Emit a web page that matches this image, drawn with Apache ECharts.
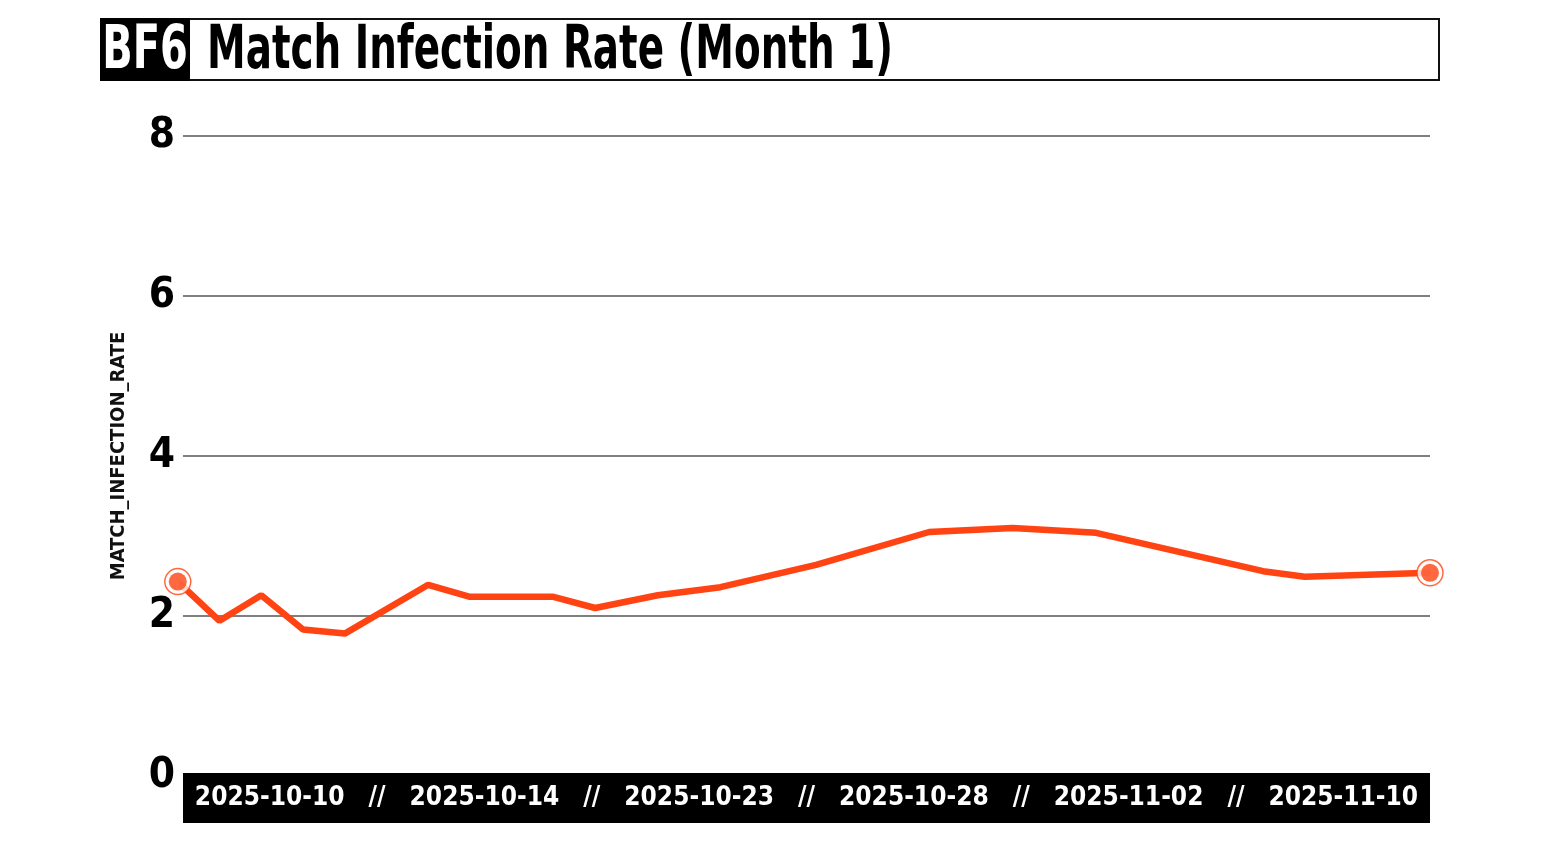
<!DOCTYPE html>
<html>
<head>
<meta charset="utf-8">
<script src="https://cdn.jsdelivr.net/npm/echarts@6/dist/echarts.min.js"></script>
<style>html,body{margin:0;padding:0;background:#fff}#c{width:1542px;height:865px}</style>
</head>
<body>
<div id="c"></div>
<script>
const dates = ['2025-10-10','2025-10-11','2025-10-12','2025-10-13','2025-10-14','2025-10-16','2025-10-17','2025-10-19','2025-10-20','2025-10-21 12:00','2025-10-23','2025-10-25 07:00','2025-10-28','2025-10-30','2025-11-01','2025-11-05','2025-11-06','2025-11-09'];
const rates = [2.43,1.94,2.26,1.83,1.78,2.39,2.24,2.24,2.10,2.26,2.36,2.64,3.05,3.10,3.04,2.56,2.49,2.54];
const bandLabels = ['2025-10-10','//','2025-10-14','//','2025-10-23','//','2025-10-28','//','2025-11-02','//','2025-11-10'];
const yTicks = [0,2,4,6,8];
const titleBadge = 'BF6';
const titleText = 'Match Infection Rate (Month 1)';
const yName = 'MATCH_INFECTION_RATE';

const FONT = '"DejaVu Sans Condensed","Liberation Sans Narrow",sans-serif';
const ORANGE = '#ff4313';
const seriesData = dates.map((d,i)=>[d, rates[i]]);
const ends = [seriesData[0], seriesData[seriesData.length-1]];
const HOUR = 3600*1000;

const chart = echarts.init(document.getElementById('c'));
chart.setOption({
  animation:false,
  backgroundColor:'#fff',
  graphic:[
    {type:'rect', shape:{x:101,y:19,width:1338,height:61}, style:{fill:'#fff',stroke:'#111',lineWidth:2}, z:1},
    {type:'rect', shape:{x:100,y:18,width:90,height:63}, style:{fill:'#000'}, z:2},
    {type:'text', x:145, y:52, scaleX:0.74, style:{text:titleBadge, fill:'#fff', font:'bold 60px '+FONT, align:'center', verticalAlign:'middle'}, z:3},
    {type:'text', x:207, y:52, scaleX:0.72, style:{text:titleText, fill:'#000', font:'bold 60px '+FONT, align:'left', verticalAlign:'middle'}, z:3},
    {type:'rect', shape:{x:183,y:773,width:1247,height:50}, style:{fill:'#000'}, z:1}
  ],
  grid:[
    {left:183, right:112, top:136, bottom:89, containLabel:false},
    {left:216, width:1181, top:770, height:10}
  ],
  xAxis:[
    {type:'time', gridIndex:0, min:v=>v.min+3*HOUR, max:v=>v.max, show:false},
    {type:'category', gridIndex:1, data:bandLabels, z:10,
     axisLine:{show:false}, axisTick:{show:false}, splitLine:{show:false},
     axisLabel:{interval:0, color:'#fff', fontFamily:FONT, fontWeight:'bold', fontSize:26, margin:5}}
  ],
  yAxis:[
    {type:'value', gridIndex:0, min:yTicks[0], max:yTicks[yTicks.length-1], interval:2,
     name:yName, nameLocation:'middle', nameGap:54, nameRotate:90,
     nameTextStyle:{fontFamily:FONT, fontWeight:'bold', fontSize:20, color:'#111'},
     axisLine:{show:false}, axisTick:{show:false},
     axisLabel:{color:'#000', fontFamily:FONT, fontWeight:'bold', fontSize:42, margin:8},
     splitLine:{lineStyle:{color:'#7f7f7f', width:2}}},
    {type:'value', gridIndex:1, show:false}
  ],
  series:[
    {type:'line', xAxisIndex:0, yAxisIndex:0, data:seriesData, showSymbol:false, clip:false,
     lineStyle:{color:ORANGE, width:6.5}, z:3},
    {type:'scatter', xAxisIndex:0, yAxisIndex:0, data:ends, symbolSize:26, clip:false,
     itemStyle:{color:'#fff', borderColor:ORANGE, borderWidth:1.5}, z:4},
    {type:'scatter', xAxisIndex:0, yAxisIndex:0, data:ends, symbolSize:18, clip:false,
     itemStyle:{color:ORANGE}, z:5}
  ]
});
</script>
</body>
</html>
